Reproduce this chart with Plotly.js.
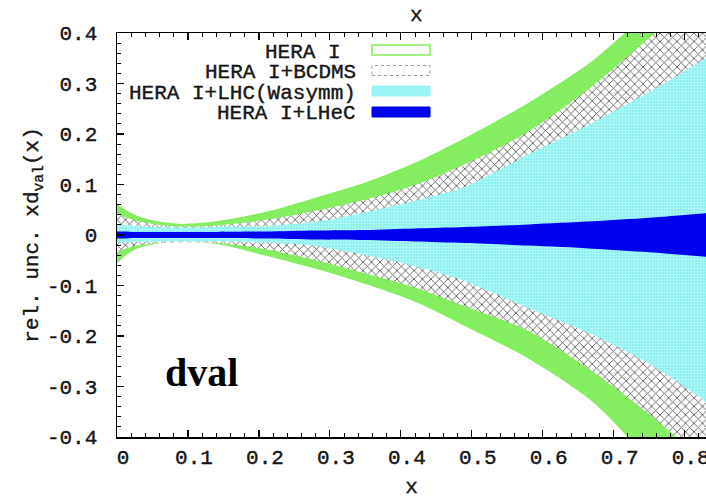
<!DOCTYPE html>
<html>
<head>
<meta charset="utf-8">
<script src="https://cdn.plot.ly/plotly-3.0.1.min.js"></script>
<style>
html,body{margin:0;padding:0;overflow:hidden;background:#fff;}
#chart{width:706px;height:499px;}
#chart svg text.mono{stroke:#000;stroke-width:0.35px;}
</style>
</head>
<body>
<div id="chart"></div>
<script>
// ---- data ----
const xPts    = [0, 0.01, 0.025, 0.05, 0.09, 0.14, 0.21, 0.28, 0.35, 0.42, 0.49, 0.58, 0.67, 0.75, 0.83];
const heraIUp = [0.062, 0.052, 0.040, 0.029, 0.022, 0.027, 0.046, 0.074, 0.104, 0.143, 0.192, 0.262, 0.345, 0.445, 0.55];
const heraILo = [-0.056, -0.043, -0.029, -0.019, -0.013, -0.018, -0.041, -0.067, -0.097, -0.132, -0.180, -0.245, -0.330, -0.445, -0.56];
const bcdmsUp = [0.042, 0.036, 0.029, 0.022, 0.017, 0.019, 0.030, 0.048, 0.070, 0.099, 0.140, 0.205, 0.295, 0.390, 0.48];
const bcdmsLo = [-0.033, -0.028, -0.022, -0.017, -0.015, -0.016, -0.028, -0.050, -0.076, -0.104, -0.141, -0.190, -0.270, -0.355, -0.45];
const lhcUp   = [0.021, 0.020, 0.018, 0.016, 0.015, 0.016, 0.018, 0.026, 0.045, 0.068, 0.095, 0.160, 0.222, 0.283, 0.35];
const lhcLo   = [-0.015, -0.015, -0.014, -0.013, -0.013, -0.013, -0.015, -0.022, -0.040, -0.062, -0.091, -0.145, -0.197, -0.255, -0.33];
const lhecUp  = [0.007, 0.007, 0.006, 0.006, 0.006, 0.006, 0.007, 0.009, 0.010, 0.013, 0.016, 0.021, 0.027, 0.034, 0.043];
const lhecLo  = [-0.007, -0.007, -0.006, -0.006, -0.006, -0.006, -0.007, -0.009, -0.010, -0.013, -0.016, -0.021, -0.027, -0.034, -0.043];

const seriesNames = ["HERA I", "HERA I+BCDMS", "HERA I+LHC(Wasymm)", "HERA I+LHeC"];
const xTickVals = [0, 0.1, 0.2, 0.3, 0.4, 0.5, 0.6, 0.7, 0.8];
const xTickText = ["0", "0.1", "0.2", "0.3", "0.4", "0.5", "0.6", "0.7", "0.8"];
const yTickVals = [-0.4, -0.3, -0.2, -0.1, 0, 0.1, 0.2, 0.3, 0.4];
const yTickText = ["-0.4", "-0.3", "-0.2", "-0.1", "0", "0.1", "0.2", "0.3", "0.4"];
const panelLabel = "dval";

// ---- styling ----
const GREEN = "#84ee60";
const BLUE = "#0000f0";
const MONO = "Liberation Mono, Courier New, monospace";
const TXT = "#1a1a1a";
const sm = {width: 0, shape: "spline", smoothing: 0.8};

// each band = invisible lower edge + upper edge filled down to it
function bandTraces(name, up, lo, fillcolor, pattern) {
  const lower = {x: xPts, y: lo, name: name, type: "scatter", mode: "lines",
                 line: sm, hoverinfo: "skip"};
  const upper = {x: xPts, y: up, name: name, type: "scatter", mode: "lines",
                 fill: "tonexty", fillcolor: fillcolor, line: sm, hoverinfo: "skip"};
  if (pattern) upper.fillpattern = pattern;
  return [lower, upper];
}

const traces = [].concat(
  bandTraces(seriesNames[0], heraIUp, heraILo, GREEN),
  bandTraces(seriesNames[1], bcdmsUp, bcdmsLo, "white",
    {shape: "x", bgcolor: "white", fgcolor: "#606060", size: 6, solidity: 0.28}),
  bandTraces(seriesNames[2], lhcUp, lhcLo, "#8ef3f3",
    {shape: ".", bgcolor: "#86f1f1", fgcolor: "#c9fafa", size: 3, solidity: 0.4}),
  bandTraces(seriesNames[3], lhecUp, lhecLo, BLUE)
);

// legend drawn manually (text left, sample right, like the reference)
const legRowsY = [52, 72.5, 93, 114];   // px from top
const legTextRight = [343, 358, 358, 358];
const H = 499, W = 706;
const annotations = [];
const shapes = [];
const sampleStyles = [
  {fillcolor: "white", line: {color: GREEN, width: 1.6}},
  {fillcolor: "white", line: {color: "#9a9a9a", width: 1, dash: "dot"}},
  {fillcolor: "#9af4f4", line: {color: "#9af4f4", width: 1}},
  {fillcolor: BLUE, line: {color: BLUE, width: 1}}
];
const fontMono = {family: MONO, size: 21, color: TXT};
for (let i = 0; i < seriesNames.length; i++) {
  annotations.push({
    text: seriesNames[i], xref: "paper", yref: "paper",
    x: (legTextRight[i] - 117) / (W - 117), y: 1 - (legRowsY[i] - 33) / (437 - 33),
    xanchor: "right", yanchor: "middle", showarrow: false, font: fontMono
  });
  shapes.push(Object.assign({
    type: "rect", xref: "paper", yref: "paper",
    x0: (372 - 117) / (W - 117), x1: (430 - 117) / (W - 117),
    y0: 1 - (legRowsY[i] - 2 + 5 - 33) / (437 - 33), y1: 1 - (legRowsY[i] - 2 - 5 - 33) / (437 - 33),
    layer: "above"
  }, sampleStyles[i]));
}
// top "x" title
annotations.push({
  text: "x", xref: "paper", yref: "paper", x: (416 - 117) / (W - 117), y: 1 + (33 - 16) / (437 - 33),
  xanchor: "center", yanchor: "middle", showarrow: false, font: fontMono
});
// panel label
annotations.push({
  text: panelLabel, xref: "paper", yref: "paper", x: (163 - 117) / (W - 117), y: 1 - (372 - 33) / (437 - 33),
  xanchor: "left", yanchor: "middle", showarrow: false,
  font: {family: "Liberation Serif, Times New Roman, serif", size: 40, color: "#000", weight: "bold"}
});

const layout = {
  width: W, height: H,
  margin: {l: 117, r: 0, t: 33, b: 62},
  paper_bgcolor: "white", plot_bgcolor: "white",
  showlegend: false,
  xaxis: {
    range: [0, 0.83], tickvals: xTickVals, ticktext: xTickText,
    ticks: "inside", ticklen: 7, tickwidth: 1.2, tickcolor: "#000",
    minor: {dtick: 0.02, tick0: 0, ticks: "inside", ticklen: 4, tickwidth: 1, tickcolor: "#000"},
    showline: true, linecolor: "#000", linewidth: 1.5, mirror: "allticks",
    showgrid: false, zeroline: false,
    tickfont: fontMono, ticklabeloverflow: "allow",
    ticklabelstandoff: 0, ticklabelshift: 6,
    title: {text: "x", font: fontMono, standoff: 18}
  },
  yaxis: {
    range: [-0.4, 0.4], tickvals: yTickVals, ticktext: yTickText,
    ticks: "inside", ticklen: 7, tickwidth: 1.2, tickcolor: "#000",
    minor: {dtick: 0.02, tick0: 0, ticks: "inside", ticklen: 4, tickwidth: 1, tickcolor: "#000"},
    showline: true, linecolor: "#000", linewidth: 1.5, mirror: false,
    showgrid: false, zeroline: false,
    tickfont: fontMono,
    ticklabelstandoff: 14,
    title: {text: "rel. unc. xd<sub>val</sub>(x)", font: fontMono, standoff: 0}
  },
  annotations: annotations,
  shapes: shapes
};

Plotly.newPlot("chart", traces, layout, {displayModeBar: false, staticPlot: true}).then(function (gd) {
  gd.querySelectorAll("svg text").forEach(function (t) {
    const fam = (t.style.fontFamily || "");
    if (fam.indexOf("Mono") >= 0) t.classList.add("mono");
  });
});
</script>
</body>
</html>
